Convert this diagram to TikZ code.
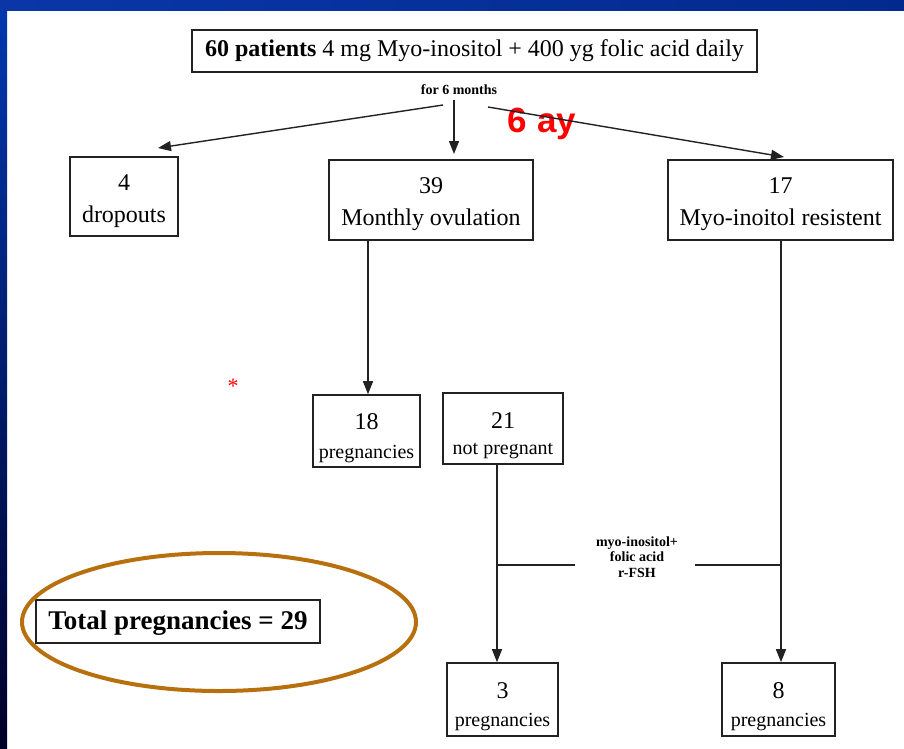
\documentclass[tikz,border=0pt]{standalone}
\usepackage{fontspec}
\setmainfont{Liberation Serif}
\newfontfamily\sansf{Liberation Sans}
\usetikzlibrary{arrows.meta,shapes.geometric}
\definecolor{frameTop}{HTML}{0038B0}
\definecolor{frameBot}{HTML}{000028}
\definecolor{stripL}{HTML}{0A36A8}
\definecolor{stripR}{HTML}{022A8E}
\definecolor{ringc}{HTML}{B8700F}
\definecolor{inkc}{HTML}{222222}
\newcommand{\fs}[2]{\fontsize{#1}{#2}\selectfont}
\begin{document}
\begin{tikzpicture}[x=1pt,y=-1pt,
  box/.style={draw=inkc, line width=1.6pt, fill=white, inner sep=0pt, align=center},
  arr/.style={-{Triangle[length=13pt,width=10pt]}, line width=1.4pt, draw=inkc},
  ln/.style={line width=1.4pt, draw=inkc},
  big/.style={font=\fs{24}{32}}]
\useasboundingbox (0,0) rectangle (904,748);
\fill[white] (0,0) rectangle (904,748);
\shade[top color=frameTop, bottom color=frameBot] (0,0) rectangle (7,748);
\shade[left color=stripL, right color=stripR] (0,0) rectangle (904,10);

% top box
\node[box, minimum width=565pt, minimum height=42pt, font=\fs{24}{28}] (top) at (474.5,51)
  {\textbf{60 patients} 4 mg Myo-inositol + 400 yg folic acid daily};
\node[font=\bfseries\fs{14}{16}, inner sep=1pt] (for6) at (459,90) {for 6 months};
\node[text=red, font=\sansf\bfseries\fs{35}{35}, inner sep=0pt] (ay) at (542,124) {6 ay};

% second row
\node[box, big, minimum width=108pt, minimum height=79pt] (drop) at (124,196.5)
  {\rule{0pt}{25pt}4\\dropouts};
\node[box, big, minimum width=204pt, minimum height=80pt] (ovul) at (431,200)
  {\rule{0pt}{25pt}39\\Monthly ovulation};
\node[box, big, minimum width=225pt, minimum height=80pt] (resist) at (780.5,200)
  {\rule{0pt}{25pt}17\\Myo-inoitol resistent};

\coordinate (sL) at (443,105);
\coordinate (sM) at (454,100);
\coordinate (sR) at (488,107);
\coordinate (eL) at (158,148);
\coordinate (eM) at (454,154);
\coordinate (eR) at (784,157);
\draw[arr] (sL) -- (eL);
\draw[arr] (sM) -- (eM);
\draw[arr] (sR) -- (eR);

% third row
\node[text=red, font=\fs{22}{22}] (star) at (233,386) {*};
\node[box, minimum width=107pt, minimum height=72pt] (p18) at (366.5,431)
  {\rule{0pt}{30pt}{\fs{24}{24}18}\\[14pt]{\fs{20}{20}pregnancies}};
\node[box, minimum width=120pt, minimum height=71pt] (np) at (503,428.5)
  {\rule{0pt}{30pt}{\fs{24}{24}21}\\[14pt]{\fs{20}{20}not pregnant}};
\coordinate (o18) at (368,240);
\draw[arr] (o18) -- (o18 |- p18.north);

% bottom row
\node[box, minimum width=111pt, minimum height=73pt] (p3) at (502.5,699.5)
  {\rule{0pt}{30pt}{\fs{24}{24}3}\\[14pt]{\fs{20}{20}pregnancies}};
\node[box, minimum width=113pt, minimum height=73pt] (p8) at (778.5,699.5)
  {\rule{0pt}{30pt}{\fs{24}{24}8}\\[14pt]{\fs{20}{20}pregnancies}};

\coordinate (v3) at (497,464);
\coordinate (v8) at (781,240);
\draw[arr] (v3) -- (v3 |- p3.north);
\draw[arr] (v8) -- (v8 |- p8.north);

\node[font=\bfseries\fs{14}{15.5}, align=center, inner sep=0pt] (fsh) at (637,557)
  {myo-inositol+\\folic acid\\r-FSH};
\coordinate (hL) at (497,565);
\coordinate (hR) at (781,565);
\coordinate (gL) at (575,565);
\coordinate (gR) at (695,565);
\draw[ln] (hL) -- (gL);
\draw[ln] (gR) -- (hR);

% total
\node[box, minimum width=284pt, minimum height=43pt, font=\bfseries\fs{27}{30}] (tot) at (178,621.5)
  {\rule{0pt}{22pt}Total pregnancies = 29};
\node[draw=ringc, line width=4pt, ellipse, minimum width=394pt, minimum height=138pt] (ring) at (219,622) {};
\end{tikzpicture}
\end{document}
